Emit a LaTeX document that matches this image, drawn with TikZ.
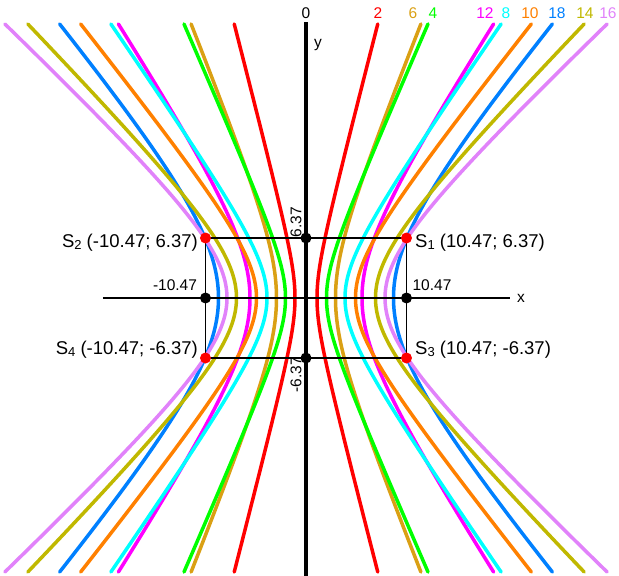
\documentclass[tikz,border=0pt]{standalone}
\usepackage{fontspec}
\setmainfont{Liberation Sans}
\definecolor{cred}{RGB}{255,0,0}
\definecolor{cgreen}{RGB}{0,255,0}
\definecolor{cgold}{RGB}{218,160,20}
\definecolor{ccyan}{RGB}{0,255,255}
\definecolor{corange}{RGB}{255,128,0}
\definecolor{cmagenta}{RGB}{255,0,255}
\definecolor{colive}{RGB}{192,184,0}
\definecolor{cviolet}{RGB}{225,130,250}
\definecolor{cblue}{RGB}{0,128,255}
\newcommand\subidx[1]{\raisebox{-0.1em}{\fontsize{13}{14}\selectfont #1}}
\begin{document}
\begin{tikzpicture}[x=1pt,y=1pt,
  curve/.style={line width=3.5pt,line cap=round},
  lbl/.style={inner sep=0pt,font=\fontsize{15.5}{18}\selectfont},
  slbl/.style={inner sep=0pt,font=\fontsize{18.5}{21}\selectfont},
  bdot/.style={circle,fill=black,inner sep=0pt,minimum size=11pt},
  rdot/.style={circle,fill=red,inner sep=0pt,minimum size=11pt}]
\useasboundingbox (-306,-278) rectangle (313,298);
% hyperbolas
\foreach \c/\a/\b in {cblue/87.5/104.1, cviolet/79/74.5, colive/69.5/70.7, cmagenta/56/85.7, corange/49.5/61.7, ccyan/39/55.9, cgold/29.5/72.8, cgreen/20.5/46.7, cred/11/42.5}{
  \draw[curve,\c] plot[domain=-274:274,samples=121,smooth] ({\a*sqrt(1+(\x/\b)^2)},\x);
  \draw[curve,\c] plot[domain=-274:274,samples=121,smooth] ({-\a*sqrt(1+(\x/\b)^2)},\x);
}
% named points
\coordinate (ytop) at (0,276);
\coordinate (ybot) at (0,-278);
\coordinate (xl) at (-203,0);
\coordinate (xr) at (204,0);
\coordinate (s1) at (100.5,60);
\coordinate (s2) at (-100.5,60);
\coordinate (s3) at (100.5,-60);
\coordinate (s4) at (-100.5,-60);
% axes
\draw[line width=3.5pt] (ybot) -- (ytop);
\draw[line width=2pt] (xl) -- (xr);
\node[lbl,anchor=west] (xlab) at (211,0) {x};
\node[lbl] (ylab) at (12,253) {y};
\node[lbl] (zero) at (0,285) {0};
% rectangle
\draw[line width=1.5pt] (s1) -- (s2) -- (s4) -- (s3) -- cycle;
% dots
\node[bdot] (p1) at (0,60) {};
\node[bdot] (p2) at (0,-60) {};
\node[bdot] (p3) at (-100.5,0) {};
\node[bdot] (p4) at (100.5,0) {};
\node[rdot] (r1) at (s1) {};
\node[rdot] (r2) at (s2) {};
\node[rdot] (r3) at (s3) {};
\node[rdot] (r4) at (s4) {};
% value labels
\node[lbl,rotate=90] (l637) at (-10,76) {6.37};
\node[lbl,rotate=90] (lm637) at (-10,-77) {-6.37};
\node[lbl] (lm1047) at (-131,13) {-10.47};
\node[lbl] (l1047) at (126,13) {10.47};
\node[slbl,anchor=west] (S1) at (109,55) {S\subidx{1} (10.47; 6.37)};
\node[slbl,anchor=east] (S2) at (-108,55) {S\subidx{2} (-10.47; 6.37)};
\node[slbl,anchor=west] (S3) at (109,-52) {S\subidx{3} (10.47; -6.37)};
\node[slbl,anchor=east] (S4) at (-108,-52) {S\subidx{4} (-10.47; -6.37)};
% top labels
\node[lbl,text=cred] (t2) at (72,285) {2};
\node[lbl,text=cgold] (t6) at (107,285) {6};
\node[lbl,text=cgreen] (t4) at (127,285) {4};
\node[lbl,text=cmagenta] (t12) at (179,285) {12};
\node[lbl,text=ccyan] (t8) at (200,285) {8};
\node[lbl,text=corange] (t10) at (224,285) {10};
\node[lbl,text=cblue] (t18) at (251,285) {18};
\node[lbl,text=colive] (t14) at (279,285) {14};
\node[lbl,text=cviolet] (t16) at (302,285) {16};
\end{tikzpicture}
\end{document}
